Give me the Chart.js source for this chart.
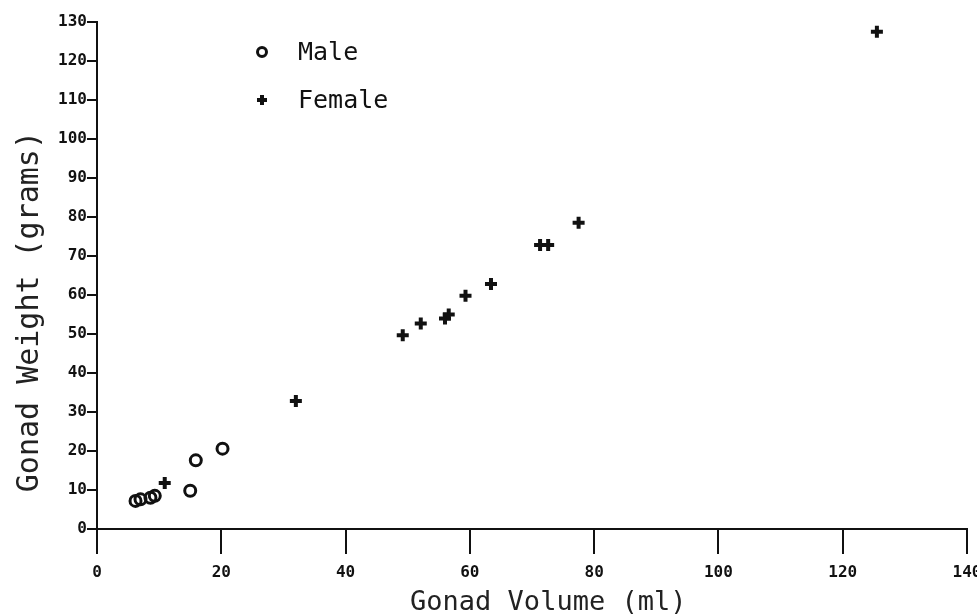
<!DOCTYPE html>
<html>
<head>
<meta charset="utf-8">
<script src="https://cdn.jsdelivr.net/npm/chart.js@4"></script>
<style>
  html, body { margin: 0; padding: 0; background: #fff; }
  #wrap { width: 977px; height: 616px; }
</style>
</head>
<body>
<div id="wrap"><canvas id="gonad_chart"></canvas></div>
<script>
// data
var male_volume = [6.2, 7.0, 8.6, 9.3, 15.0, 15.9, 20.2]
var male_weight = [7.2, 7.6, 8.0, 8.5, 9.8, 17.6, 20.6]
var female_volume = [10.9, 32.0, 49.2, 52.1, 56.0, 56.6, 59.3, 63.4, 71.3, 72.6, 77.5, 125.5]
var female_weight = [11.8, 32.8, 49.7, 52.7, 54.0, 55.0, 59.8, 62.8, 72.8, 72.8, 78.5, 127.5]
var x_ticks = [0, 20, 40, 60, 80, 100, 120, 140]
var y_ticks = [0, 10, 20, 30, 40, 50, 60, 70, 80, 90, 100, 110, 120, 130]

var ink = '#111'
var mono = "'DejaVu Sans Mono', monospace"

function points(xs, ys){ // pair up x and y arrays
  var out = []
  for (var i = 0; i < xs.length; i++){
    out.push({x: xs[i], y: ys[i]})
  }
  return out
}

// legend drawn inside the plot, top left, one entry per row
var innerLegend = {
  id: 'innerLegend',
  afterDraw: function(chart){
    var ctx = chart.ctx
    var rows = [52, 100]
    ctx.save()
    chart.data.datasets.forEach(function(ds, i){
      ctx.strokeStyle = ds.borderColor
      ctx.fillStyle = ds.backgroundColor
      ctx.lineWidth = ds.borderWidth
      Chart.helpers.drawPoint(ctx, {
        pointStyle: ds.pointStyle,
        radius: ds.pointRadius - 1,
        borderWidth: ds.borderWidth
      }, 262, rows[i])
      ctx.fillStyle = ink
      ctx.font = '25px ' + mono
      ctx.textBaseline = 'middle'
      ctx.fillText(ds.label, 298, rows[i] + 1)
    })
    ctx.restore()
  }
}

// make sure the canvas is white
var whiteBg = {
  id: 'whiteBg',
  beforeDraw: function(chart){
    var ctx = chart.ctx
    ctx.save()
    ctx.fillStyle = '#fff'
    ctx.fillRect(0, 0, chart.width, chart.height)
    ctx.restore()
  }
}

var gonad_canvas = document.getElementById('gonad_chart')
var gonad_chart = new Chart(gonad_canvas.getContext('2d'), {
  type: 'scatter',
  data: {
    datasets: [{
      label: 'Male',
      data: points(male_volume, male_weight),
      pointStyle: 'circle',
      pointRadius: 5.5,
      borderWidth: 3,
      borderColor: ink,
      backgroundColor: 'rgba(255,255,255,0)'
    }, {
      label: 'Female',
      data: points(female_volume, female_weight),
      pointStyle: 'cross',
      pointRadius: 6,
      borderWidth: 4,
      borderColor: ink,
      backgroundColor: ink
    }]
  },
  options: {
    responsive: true,
    maintainAspectRatio: false,
    animation: false,
    layout: {
      padding: {left: 0, right: 10, top: 22, bottom: 0}
    },
    plugins: {
      legend: { display: false },
      tooltip: { enabled: false }
    },
    scales: {
      x: {
        type: 'linear',
        min: 0,
        max: 140,
        afterBuildTicks: function(scale){
          scale.ticks = x_ticks.map(function(v){ return {value: v} })
        },
        afterFit: function(scale){
          scale.height = 87
          scale.paddingLeft = 0
          scale.paddingRight = 10
        },
        border: { display: true, color: ink, width: 2 },
        grid: {
          display: true,
          drawOnChartArea: false,
          drawTicks: true,
          tickLength: 25,
          color: ink,
          lineWidth: 2
        },
        ticks: {
          color: ink,
          padding: 9,
          maxRotation: 0,
          autoSkip: false,
          font: { family: mono, size: 16, weight: 'bold' }
        },
        title: {
          display: true,
          text: '  Gonad Volume (ml)',
          color: '#222',
          font: { family: mono, size: 27, lineHeight: 1 },
          padding: { top: 0, bottom: 0 }
        }
      },
      y: {
        type: 'linear',
        min: 0,
        max: 130,
        afterBuildTicks: function(scale){
          scale.ticks = y_ticks.map(function(v){ return {value: v} })
        },
        afterFit: function(scale){
          scale.width = 97
        },
        border: { display: true, color: ink, width: 2 },
        grid: {
          display: true,
          drawOnChartArea: false,
          drawTicks: true,
          tickLength: 10,
          color: ink,
          lineWidth: 2
        },
        ticks: {
          color: ink,
          padding: 0,
          autoSkip: false,
          font: { family: mono, size: 16, weight: 'bold' }
        },
        title: {
          display: true,
          text: 'Gonad Weight (grams)    ',
          color: '#222',
          font: { family: mono, size: 30, lineHeight: 1 },
          padding: { top: 15, bottom: 0 }
        }
      }
    }
  },
  plugins: [whiteBg, innerLegend]
})
</script>
</body>
</html>
